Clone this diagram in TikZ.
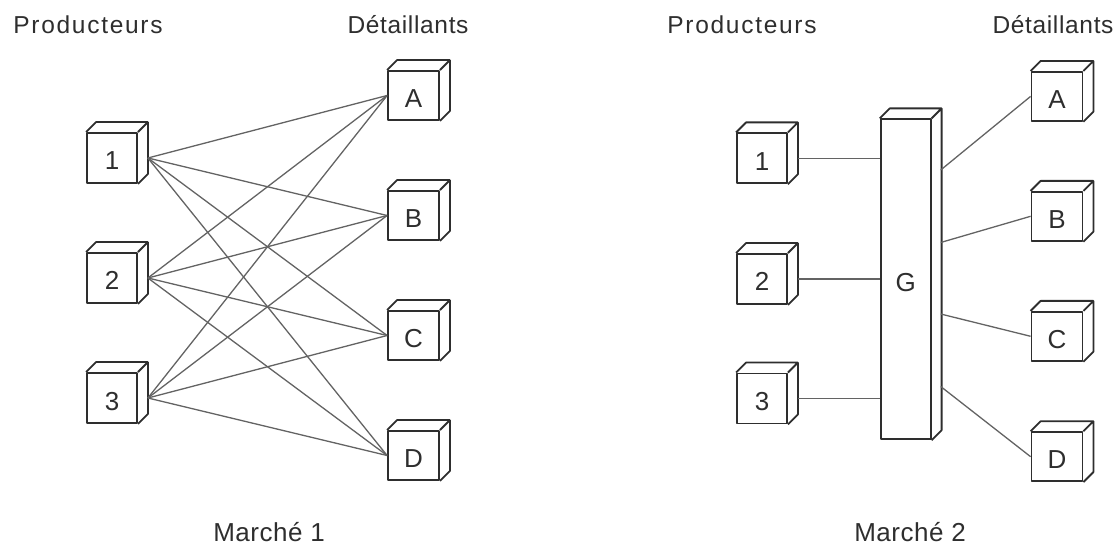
\documentclass[tikz,border=0pt]{standalone}
\usepackage{fontspec}
\setmainfont{Liberation Sans}
\usetikzlibrary{calc}

\definecolor{ink}{HTML}{2E2E2E}
\definecolor{wirecol}{HTML}{636363}

\tikzset{
  boxline/.style={draw=ink, line width=1.8pt, line join=round},
  cube/.style={boxline, fill=white, inner sep=0pt,
    minimum width=50pt, minimum height=50pt},
  shop/.style={cube, minimum width=51pt, minimum height=49pt},
  lbl/.style={anchor=base, inner sep=0pt, text=ink,
    font=\fontsize{26}{26}\selectfont},
  wire/.style={draw=wirecol, line width=1.3pt},
  title/.style={anchor=base, inner sep=0pt, text=ink},
}

% top and side faces of a box drawn behind its front face
\newcommand{\cubefaces}[1]{%
  \draw[boxline] (#1.north west) -- ++(10,-10)
    -- ($(#1.north east)+(10,-10)$) -- ($(#1.south east)+(10,-10)$)
    -- (#1.south east)
    (#1.north east) -- ++(10,-10);%
  \coordinate (#1-out) at ($(#1.east)+(10,0)$);%
}

\begin{document}
\begin{tikzpicture}[x=1pt,y=-1pt]
\useasboundingbox (0,0) rectangle (1120,545);

% ---------- Marché 1 ----------
\foreach \n/\y in {1/158,2/278,3/398}{
  \node[cube] (p\n) at (112,\y) {};
  \cubefaces{p\n}
  \node[lbl] at ($(p\n)+(0,12)$) {\n};
}
\foreach \n/\y in {A/95.5,B/215.5,C/335.5,D/455.5}{
  \node[shop] (r\n) at (413.5,\y) {};
  \cubefaces{r\n}
  \node[lbl] at ($(r\n)+(0,12)$) {\n};
}
\foreach \p in {1,2,3}{
  \foreach \r in {A,B,C,D}{
    \draw[wire] (p\p-out) -- (r\r.west);
  }
}

% ---------- Marché 2 ----------
\foreach \n/\y in {1/158.3,2/279,3/398.5}{
  \node[cube] (q\n) at (762,\y) {};
  \cubefaces{q\n}
  \node[lbl] at ($(q\n)+(0,12)$) {\n};
}
\node[cube, minimum height=320pt] (G) at (905.7,279.3) {};
\cubefaces{G}
\node[lbl] at ($(G)+(0,12)$) {G};
\foreach \n/\y in {A/96.4,B/216.3,C/336.3,D/456.7}{
  \node[shop] (s\n) at (1057,\y) {};
  \cubefaces{s\n}
  \node[lbl] at ($(s\n)+(0,12)$) {\n};
}
\foreach \n in {1,2,3}{
  \draw[wire] (q\n-out) -- (q\n-out -| G.west);
}
\foreach \r/\y in {A/170,B/242.5,C/314,D/386.5}{
  \coordinate (g\r) at (940.7,\y);
  \draw[wire] (g\r) -- (s\r.west);
}

% ---------- titles ----------
\tikzset{
  prodfont/.style={font=\fontsize{24.5}{25}\selectfont\addfontfeature{LetterSpace=7}},
  detfont/.style={font=\fontsize{24.5}{25}\selectfont\addfontfeature{LetterSpace=2.7}},
  mktfont/.style={font=\fontsize{26}{26}\selectfont\addfontfeature{LetterSpace=2}},
}
\node[title, prodfont] (t1) at (88,34) {Producteurs};
\node[title, detfont]  (t2) at (408,34) {Détaillants};
\node[title, prodfont] (t3) at (742,34) {Producteurs};
\node[title, detfont]  (t4) at (1053,34) {Détaillants};
\node[title, mktfont]  (m1) at (269,541.5) {Marché 1};
\node[title, mktfont]  (m2) at (910,541.5) {Marché 2};
\end{tikzpicture}
\end{document}
